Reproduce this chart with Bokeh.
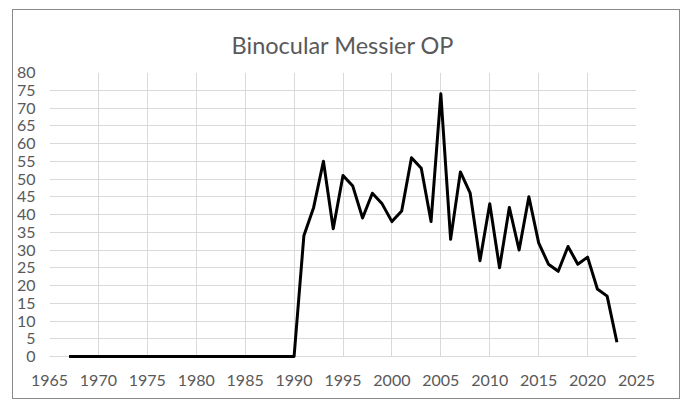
from bokeh.plotting import figure
from bokeh.embed import file_html
from bokeh.resources import INLINE
from bokeh.models import Range1d, FixedTicker, Title

years = [1967, 1968, 1969, 1970, 1971, 1972, 1973, 1974, 1975, 1976, 1977, 1978,
         1979, 1980, 1981, 1982, 1983, 1984, 1985, 1986, 1987, 1988, 1989, 1990,
         1991, 1992, 1993, 1994, 1995, 1996, 1997, 1998, 1999, 2000, 2001, 2002,
         2003, 2004, 2005, 2006, 2007, 2008, 2009, 2010, 2011, 2012, 2013, 2014,
         2015, 2016, 2017, 2018, 2019, 2020, 2021, 2022, 2023]
counts = [0, 0, 0, 0, 0, 0, 0, 0, 0, 0, 0, 0,
          0, 0, 0, 0, 0, 0, 0, 0, 0, 0, 0, 0,
          34, 42, 55, 36, 51, 48, 39, 46, 43, 38, 41, 56,
          53, 38, 74, 33, 52, 46, 27, 43, 25, 42, 30, 45,
          32, 26, 24, 31, 26, 28, 19, 17, 4]
x_ticks = [1965, 1970, 1975, 1980, 1985, 1990, 1995, 2000, 2005, 2010, 2015, 2020, 2025]
y_ticks = [0, 5, 10, 15, 20, 25, 30, 35, 40, 45, 50, 55, 60, 65, 70, 75, 80]
title_text = "Binocular Messier OP"

FONT = "Lato"
GREY_TXT = "#595959"
GRID = "#d9d9d9"

p = figure(width=668, height=390, output_backend="svg", toolbar_location=None,
           x_range=Range1d(1965, 2025), y_range=Range1d(0, 80),
           min_border_left=35, min_border_top=62, min_border_right=45, min_border_bottom=44)
p.styles = {"border": "1px solid #8a8a8a", "margin-left": "12px", "margin-top": "9px"}

p.title = Title(text=title_text, align="center", text_font=FONT, text_font_size="23.5px",
                text_color=GREY_TXT, text_font_style="normal", standoff=28,
                text_line_height=0.85)

p.outline_line_color = None
p.background_fill_color = "white"
p.border_fill_color = "white"

p.xaxis.ticker = FixedTicker(ticks=x_ticks)
p.yaxis.ticker = FixedTicker(ticks=y_ticks)
p.xgrid.ticker = FixedTicker(ticks=x_ticks)
p.ygrid.ticker = FixedTicker(ticks=y_ticks)
p.xgrid.grid_line_color = GRID
p.ygrid.grid_line_color = GRID
p.xgrid.grid_line_width = 1
p.ygrid.grid_line_width = 1

for ax in (p.xaxis, p.yaxis):
    ax.major_tick_line_color = None
    ax.minor_tick_line_color = None
    ax.major_label_text_font = FONT
    ax.major_label_text_font_size = "16px"
    ax.major_label_text_color = GREY_TXT
p.xaxis.axis_line_color = GRID
p.yaxis.axis_line_color = None
p.xaxis.major_label_standoff = 12
p.yaxis.major_label_standoff = 8

r = p.line(years, counts, line_color="black", line_width=3, line_join="round")
r.level = "overlay"

open("out.html", "w").write(file_html(p, INLINE))
